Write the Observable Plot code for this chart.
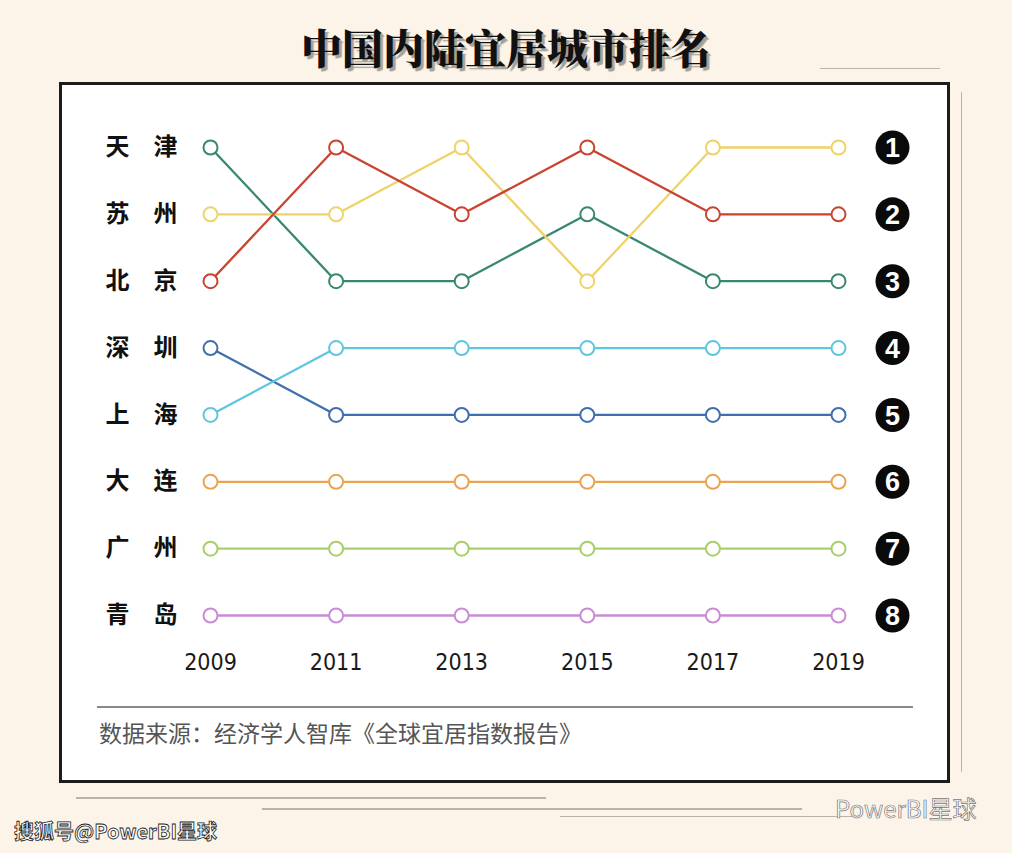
<!DOCTYPE html>
<html>
<head>
<meta charset="utf-8">
<script src="https://cdn.jsdelivr.net/npm/d3@7"></script>
<script src="https://cdn.jsdelivr.net/npm/@observablehq/plot@0.6"></script>
<style>
  html, body { margin: 0; padding: 0; background: #fcf4e8; }
  #page { position: relative; width: 1012px; height: 853px; overflow: hidden; background: #fcf4e8; font-family: "Noto Sans CJK SC", sans-serif; }
  #title { position: absolute; left: 0; width: 1012px; top: 19px; text-align: center; font-size: 41px; font-weight: 900; color: #111; text-shadow: 3px 3px 1px rgba(0,0,0,0.35); font-family: "Noto Serif CJK SC", "Noto Sans CJK SC", serif; line-height: 56px; }
  #box { position: absolute; left: 59px; top: 82px; width: 891px; height: 701px; box-sizing: border-box; border: 3px solid #1c1c1c; background: #ffffff; }
  #chart { position: absolute; left: 0; top: 0; }
  #sep { position: absolute; left: 97px; top: 706px; width: 816px; height: 2px; background: #8a8a8a; }
  #source { position: absolute; left: 99px; top: 717px; font-size: 23px; color: #555; line-height: 30px; }
  .deco { position: absolute; height: 2px; background: #b9b3a8; }
  #wm1 { position: absolute; left: 14px; top: 816px; font-size: 20px; color: #fff; -webkit-text-stroke: 0.8px #222; font-family: "Noto Sans CJK SC", sans-serif; font-weight: 700; }
  #wm2 { position: absolute; left: 835px; top: 790px; font-size: 24px; color: #fff; -webkit-text-stroke: 0.7px #777; font-family: "Noto Sans CJK SC", sans-serif; }
</style>
</head>
<body>
<div id="page">
  <div id="title">中国内陆宜居城市排名</div>
  <div class="deco" style="left:820px; top:68px; width:120px; height:1px;"></div>
  <div class="deco" style="left:961px; top:92px; width:1px; height:680px;"></div>
  <div id="box"></div>
  <div id="sep"></div>
  <div id="source">数据来源：经济学人智库《全球宜居指数报告》</div>
  <div class="deco" style="left:76px; top:797px; width:470px;"></div>
  <div class="deco" style="left:262px; top:808px; width:540px;"></div>
  <div class="deco" style="left:560px; top:816px; width:300px; height:1px;"></div>
  <div id="wm1">搜狐号@PowerBI星球</div>
  <div id="wm2">PowerBI星球</div>
  <div id="chart"></div>
</div>
<script>
// ---- data ----
const years = [2009, 2011, 2013, 2015, 2017, 2019];
const cities = ["天津", "苏州", "北京", "深圳", "上海", "大连", "广州", "青岛"];
const rank天津 = [1, 3, 3, 2, 3, 3];
const rank苏州 = [2, 2, 1, 3, 1, 1];
const rank北京 = [3, 1, 2, 1, 2, 2];
const rank深圳 = [4, 5, 5, 5, 5, 5];
const rank上海 = [5, 4, 4, 4, 4, 4];
const rank大连 = [6, 6, 6, 6, 6, 6];
const rank广州 = [7, 7, 7, 7, 7, 7];
const rank青岛 = [8, 8, 8, 8, 8, 8];
const rankLabels = [1, 2, 3, 4, 5, 6, 7, 8];
const colors = ["#38876f", "#efd268", "#c9432f", "#3f6fae", "#5fc6df", "#e9a453", "#a9cf6b", "#c98bd6"];

const rankSeries = [rank天津, rank苏州, rank北京, rank深圳, rank上海, rank大连, rank广州, rank青岛];
const data = [];
cities.forEach((c, i) => years.forEach((y, j) => data.push({city: c, year: y, rank: rankSeries[i][j]})));
const startLabels = cities.map((c, i) => ({city: c, rank: rankSeries[i][0]}));

const chart = Plot.plot({
  width: 1012,
  height: 853,
  marginLeft: 210,
  marginRight: 174,
  marginTop: 147,
  marginBottom: 238,
  style: { background: "transparent", overflow: "visible" },
  x: { domain: [2009, 2019], axis: null },
  y: { domain: [1, 8], reverse: true, axis: null },
  color: { domain: cities, range: colors },
  marks: [
    Plot.line(data, { x: "year", y: "rank", z: "city", stroke: "city", strokeWidth: 2.3 }),
    Plot.dot(data, { x: "year", y: "rank", stroke: "city", fill: "white", r: 7, strokeWidth: 2 }),
    Plot.text(startLabels, {
      x: () => 2009, y: "rank", dx: -69,
      text: d => d.city[0] + "\u3000" + d.city[1],
      fontSize: 24, fontWeight: 600, fill: "#111",
      fontFamily: "Noto Sans CJK SC, sans-serif"
    }),
    Plot.dot(rankLabels, { x: () => 2019, y: d => d, dx: 54, r: 17, fill: "#0a0a0a" }),
    Plot.text(rankLabels, {
      x: () => 2019, y: d => d, dx: 54, dy: 1, text: d => String(d),
      fill: "white", fontSize: 27, fontWeight: "bold",
      fontFamily: "Liberation Sans, Arial, sans-serif"
    }),
    Plot.text(years, {
      x: d => d, y: () => 8, dy: 47, text: d => String(d),
      fontSize: 23, fill: "#1a1a1a",
      fontFamily: "Liberation Sans Narrow, DejaVu Sans Condensed, Arial Narrow, sans-serif"
    })
  ]
});
document.getElementById("chart").appendChild(chart);
</script>
</body>
</html>
